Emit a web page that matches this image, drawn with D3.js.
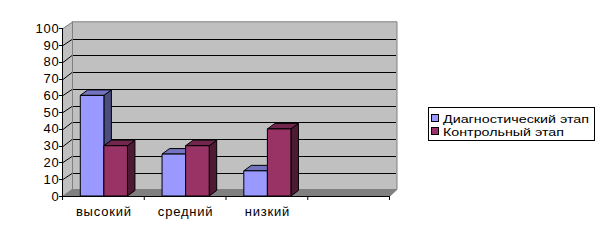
<!DOCTYPE html>
<html>
<head>
<meta charset="utf-8">
<script src="https://cdn.jsdelivr.net/npm/d3@7"></script>
<style>
  body { margin: 0; background: #fff; }
  svg text { font-family: Arial, "Liberation Sans", sans-serif; font-size: 13px; letter-spacing: 0.8px; fill: #000; }
  svg .legend text { font-size: 11.5px; letter-spacing: 0; }
</style>
</head>
<body>
<div id="chart"></div>
<script>
// данные диаграммы
const categories = ["высокий", "средний", "низкий", ""];
const seriesNames = ["Диагностический этап", "Контрольный этап"];
const diagValues = [60, 25, 15, null];
const controlValues = [30, 30, 40, null];
const yTicks = [0, 10, 20, 30, 40, 50, 60, 70, 80, 90, 100];

const colors = [
    { front: "#9999ff", top: "#7373bf", side: "#4d4d80" },
    { front: "#993366", top: "#73264d", side: "#4d1a33" }
];

const width = 604, height = 240;
const svg = d3.select("#chart").append("svg")
    .attr("width", width)
    .attr("height", height);

// передняя плоскость и смещение глубины
const front = { left: 63, right: 390, bottom: 196, top: 28.3 };
const wallDx = 9, wallDy = -6.5;
const backRight = 397;
const barDx = 7.5, barDy = -5.5;
const gap = 17.3;

const x = d3.scaleBand()
    .domain(d3.range(categories.length))
    .range([front.left, front.right]);

const xSeries = d3.scaleBand()
    .domain([0, 1])
    .range([gap, x.bandwidth() - gap]);

const y = d3.scaleLinear()
    .domain([0, 100])
    .range([front.bottom, front.top]);

const line = d3.line();
const poly = pts => line(pts) + "Z";

const bx0 = front.left + wallDx, bx1 = backRight;
const yb = v => y(v) + wallDy;

// задняя стенка
svg.append("path")
    .attr("d", poly([[bx0, yb(100)], [bx1, yb(100)], [bx1, yb(0)], [bx0, yb(0)]]))
    .attr("fill", "#c0c0c0")
    .attr("stroke", "#808080");

// боковая стенка
svg.append("path")
    .attr("d", poly([[front.left, y(100)], [bx0, yb(100)], [bx0, yb(0)], [front.left, y(0)]]))
    .attr("fill", "#c0c0c0")
    .attr("stroke", "none");

// линии сетки
yTicks.filter(t => t > 0 && t < 100).forEach(t => {
    svg.append("line")
        .attr("x1", bx0).attr("x2", bx1 - 1)
        .attr("y1", Math.round(yb(t)) + 0.5).attr("y2", Math.round(yb(t)) + 0.5)
        .attr("stroke", "#000");
});
yTicks.filter(t => t > 0).forEach(t => {
    svg.append("line")
        .attr("x1", front.left).attr("y1", Math.round(y(t)) + 0.5)
        .attr("x2", bx0).attr("y2", Math.round(yb(t)) + 0.5)
        .attr("stroke", t === 100 ? "#808080" : "#000");
});
svg.append("line")
    .attr("x1", bx0 + 0.5).attr("x2", bx0 + 0.5)
    .attr("y1", yb(100)).attr("y2", yb(0))
    .attr("stroke", "#808080");

// пол
svg.append("path")
    .attr("d", poly([[front.left, y(0)], [front.right, y(0)], [bx1, yb(0)], [bx0, yb(0)]]))
    .attr("fill", "#808080")
    .attr("stroke", "#808080");

// ось Y
svg.append("line")
    .attr("x1", front.left - 0.5).attr("x2", front.left - 0.5)
    .attr("y1", y(100)).attr("y2", y(0))
    .attr("stroke", "#000");
svg.selectAll(".ytick").data(yTicks).enter().append("line")
    .attr("x1", front.left - 4).attr("x2", front.left)
    .attr("y1", d => Math.round(y(d)) + 0.5).attr("y2", d => Math.round(y(d)) + 0.5)
    .attr("stroke", "#000");
svg.selectAll(".ylabel").data(yTicks).enter().append("text")
    .attr("x", front.left - 3.5)
    .attr("y", d => y(d) + 4.5)
    .attr("text-anchor", "end")
    .text(d => d);

// ось X
svg.append("line")
    .attr("x1", front.left - 1).attr("x2", front.right)
    .attr("y1", front.bottom + 0.5).attr("y2", front.bottom + 0.5)
    .attr("stroke", "#000");
svg.selectAll(".xtick").data(d3.range(categories.length + 1)).enter().append("line")
    .attr("x1", d => front.left + d * x.bandwidth() - 0.5)
    .attr("x2", d => front.left + d * x.bandwidth() - 0.5)
    .attr("y1", front.bottom).attr("y2", front.bottom + 4)
    .attr("stroke", "#000");
svg.selectAll(".xlabel").data(categories).enter().append("text")
    .attr("x", (d, i) => x(i) + x.bandwidth() / 2)
    .attr("y", 216)
    .attr("text-anchor", "middle")
    .text(d => d);

// столбцы
const series = [diagValues, controlValues];
categories.forEach((c, i) => {
    series.forEach((vals, s) => {
        const v = vals[i];
        if (v == null) return;
        const x0 = x(i) + xSeries(s), x1 = x0 + xSeries.bandwidth();
        const y0 = y(0), y1 = y(v);
        const g = svg.append("g")
            .attr("stroke", "#000").attr("stroke-width", 1).attr("stroke-linejoin", "round");
        g.append("path")
            .attr("d", poly([[x1, y1], [x1 + barDx, y1 + barDy], [x1 + barDx, y0 + barDy], [x1, y0]]))
            .attr("fill", colors[s].side);
        g.append("path")
            .attr("d", poly([[x0, y1], [x1, y1], [x1 + barDx, y1 + barDy], [x0 + barDx, y1 + barDy]]))
            .attr("fill", colors[s].top);
        g.append("path")
            .attr("d", poly([[x0, y1], [x1, y1], [x1, y0], [x0, y0]]))
            .attr("fill", colors[s].front);
    });
});

// легенда
const legendWidths = [146, 121];
const legend = svg.append("g").attr("class", "legend");
legend.append("rect")
    .attr("x", 428.5).attr("y", 107.5)
    .attr("width", 166).attr("height", 33)
    .attr("fill", "#fff").attr("stroke", "#000");
seriesNames.forEach((name, s) => {
    const cy = 118 + s * 13;
    legend.append("rect")
        .attr("x", 431.5).attr("y", cy - 3.5)
        .attr("width", 7).attr("height", 7)
        .attr("fill", colors[s].front).attr("stroke", "#000");
    legend.append("text")
        .attr("x", 443).attr("y", cy + 4.5)
        .attr("textLength", legendWidths[s])
        .attr("lengthAdjust", "spacingAndGlyphs")
        .text(name);
});
</script>
</body>
</html>
